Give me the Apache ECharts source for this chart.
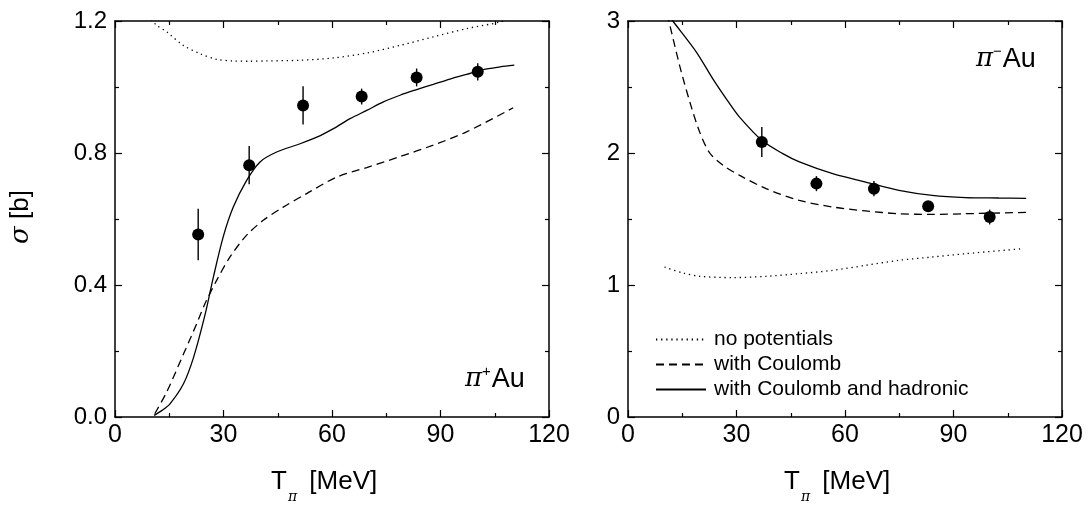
<!DOCTYPE html>
<html><head><meta charset="utf-8">
<script src="https://cdn.jsdelivr.net/npm/echarts@6/dist/echarts.min.js"></script>
<style>html,body{margin:0;padding:0;background:#fff}#c{width:1092px;height:507px}</style>
</head><body><div id="c"></div>
<script>
// ---- data: pi+ Au ----
const plusT = [23.0, 37.1, 52.0, 68.2, 83.4, 100.3];
const plusSigma = [0.553, 0.763, 0.944, 0.971, 1.029, 1.046];
const plusErr = [0.078, 0.058, 0.058, 0.024, 0.027, 0.026];
const plusNoPot = [[10,1.205],[11.5,1.187],[14.3,1.167],[18.9,1.126],[23.5,1.101],[28.1,1.084],[32.7,1.079],[37.3,1.078],[41.9,1.079],[51.2,1.081],[60.4,1.088],[69.6,1.103],[78.8,1.126],[88.0,1.152],[97.2,1.177],[106.5,1.197],[110,1.212]];
const plusCoul = [[11,0.01],[14.3,0.076],[18.9,0.19],[22.6,0.283],[24.9,0.344],[28.1,0.414],[31.8,0.485],[36.4,0.551],[41.0,0.596],[46.5,0.636],[53.0,0.677],[61.3,0.727],[69.6,0.756],[78.8,0.789],[88.0,0.824],[97.2,0.864],[110.1,0.937]];
const plusHad = [[10.8,0.005],[13.0,0.02],[15.2,0.04],[18.9,0.10],[21.7,0.18],[24.9,0.31],[27.2,0.424],[29.9,0.545],[32.7,0.636],[36.4,0.717],[40.1,0.773],[44.7,0.803],[51.2,0.828],[55.8,0.848],[60.4,0.874],[65.0,0.904],[69.6,0.929],[74.2,0.955],[78.8,0.975],[83.4,0.992],[88.0,1.008],[92.6,1.024],[97.2,1.038],[101.8,1.053],[106.5,1.061],[110.4,1.066]];
// ---- data: pi- Au ----
const minusT = [37.0, 52.1, 68.0, 83.0, 100.0];
const minusSigma = [2.083, 1.768, 1.730, 1.596, 1.515];
const minusErr = [0.114, 0.057, 0.058, 0.03, 0.056];
const minusNoPot = [[10.1,1.136],[15.2,1.091],[19.8,1.066],[29.0,1.056],[38.2,1.066],[47.4,1.086],[56.6,1.111],[65.7,1.149],[74.9,1.187],[84.1,1.212],[93.3,1.237],[109.0,1.275]];
const minusCoul = [[10,3.15],[11.3,3.0],[14.3,2.66],[17.1,2.386],[19.8,2.16],[22.6,2.0],[26.3,1.907],[30.9,1.83],[38.2,1.730],[47.4,1.641],[56.6,1.591],[65.7,1.561],[74.9,1.540],[84.1,1.535],[93.3,1.540],[110.3,1.55]];
const minusHad = [[10,3.09],[12.4,3.0],[18.9,2.765],[23.5,2.56],[28.1,2.374],[30.9,2.27],[37.0,2.096],[42.8,1.995],[47.4,1.932],[56.6,1.843],[65.7,1.780],[74.9,1.717],[84.1,1.679],[93.3,1.662],[102.5,1.659],[110.1,1.657]];
const legendNames = ['no potentials', 'with Coulomb', 'with Coulomb and hadronic'];

const FONT = '"Liberation Sans", Arial, sans-serif';
const chart = echarts.init(document.getElementById('c'), null, {renderer: 'canvas'});

function xAx(grid, pos) {
  const main = pos === 'bottom';
  return {gridIndex: grid, type: 'value', position: pos, min: 0, max: 120, interval: 30,
    axisLine: {show: true, onZero: false, lineStyle: {color: '#000', width: 1.5}},
    axisTick: {show: true, inside: true, length: 7, lineStyle: {color: '#000', width: 1.2}},
    minorTick: {show: true, splitNumber: 2, length: 4, lineStyle: {color: '#000', width: 1.2}},
    axisLabel: {show: main, color: '#000', fontSize: 25, fontFamily: FONT, margin: 6},
    splitLine: {show: false}};
}
function yAx(grid, pos, max, interval, fmt) {
  const main = pos === 'left';
  return {gridIndex: grid, type: 'value', position: pos, min: 0, max: max, interval: interval,
    axisLine: {show: true, onZero: false, lineStyle: {color: '#000', width: 1.5}},
    axisTick: {show: true, inside: true, length: 7, lineStyle: {color: '#000', width: 1.2}},
    minorTick: {show: true, splitNumber: 2, length: 4, lineStyle: {color: '#000', width: 1.2}},
    axisLabel: {show: main, color: '#000', fontSize: 24, fontFamily: FONT, margin: 8, formatter: fmt},
    splitLine: {show: false}};
}
function errSeries(xi, yi, T, S, E) {
  return {type: 'custom', xAxisIndex: xi, yAxisIndex: yi, silent: true, z: 3,
    data: T.map((t, i) => [t, S[i] - E[i], S[i] + E[i]]),
    renderItem: function (params, api) {
      const lo = api.coord([api.value(0), api.value(1)]);
      const hi = api.coord([api.value(0), api.value(2)]);
      return {type: 'line', shape: {x1: lo[0], y1: lo[1], x2: hi[0], y2: hi[1]},
        style: {stroke: '#000', lineWidth: 1.4}};
    }};
}
const dotted = {color: '#000', width: 1.3, type: [1.3, 3.8]};
const dashed = {color: '#000', width: 1.3, type: [8, 5]};
const solid = {color: '#000', width: 1.3, type: 'solid'};
function lineS(name, xi, yi, data, ls) {
  return {name: name, type: 'line', xAxisIndex: xi, yAxisIndex: yi, data: data, smooth: 0.3,
    symbol: 'none', showSymbol: false, clip: true, lineStyle: ls,
    itemStyle: {color: '#000'}, z: 2};
}
function dots(xi, yi, T, S) {
  return {type: 'scatter', xAxisIndex: xi, yAxisIndex: yi, symbolSize: 12,
    itemStyle: {color: '#000', opacity: 1}, z: 4, data: T.map((t, i) => [t, S[i]])};
}

const option = {
  animation: false,
  backgroundColor: '#fff',
  grid: [
    {left: 115, top: 21, width: 434, height: 396},
    {left: 628, top: 21, width: 434, height: 396}
  ],
  xAxis: [xAx(0, 'bottom'), xAx(0, 'top'), xAx(1, 'bottom'), xAx(1, 'top')],
  yAxis: [
    yAx(0, 'left', 1.2, 0.4, v => v.toFixed(1)), yAx(0, 'right', 1.2, 0.4),
    yAx(1, 'left', 3, 1, v => String(v)), yAx(1, 'right', 3, 1)
  ],
  legend: {
    orient: 'vertical', left: 650, top: 324, itemWidth: 50, itemHeight: 14, itemGap: 4,
    data: legendNames,
    itemStyle: {opacity: 0},
    textStyle: {color: '#000', fontSize: 21, lineHeight: 21, fontFamily: FONT, padding: [0, 0, 0, 3]},
    inactiveColor: '#000'
  },
  series: [
    lineS(legendNames[0], 0, 0, plusNoPot, dotted),
    lineS(legendNames[1], 0, 0, plusCoul, dashed),
    lineS(legendNames[2], 0, 0, plusHad, solid),
    errSeries(0, 0, plusT, plusSigma, plusErr),
    dots(0, 0, plusT, plusSigma),
    lineS(legendNames[0], 2, 2, minusNoPot, dotted),
    lineS(legendNames[1], 2, 2, minusCoul, dashed),
    lineS(legendNames[2], 2, 2, minusHad, solid),
    errSeries(2, 2, minusT, minusSigma, minusErr),
    dots(2, 2, minusT, minusSigma)
  ],
  graphic: [
    {type: 'text', left: 8, top: 190, rotation: Math.PI / 2, style: {
      text: '{i|σ} [b]', fill: '#000', font: '26px ' + FONT, align: 'center', verticalAlign: 'middle',
      rich: {i: {fontStyle: 'italic', fontSize: 26, fontFamily: '"DejaVu Serif", serif'}}}},
    {type: 'text', left: 271, top: 469, style: {
      text: 'T{s|π} [MeV]', fill: '#000', font: '26px ' + FONT,
      rich: {s: {fontSize: 14, fontStyle: 'italic', fontFamily: '"DejaVu Serif", serif', padding: [30, 5, 0, 1]}}}},
    {type: 'text', left: 784, top: 469, style: {
      text: 'T{s|π} [MeV]', fill: '#000', font: '26px ' + FONT,
      rich: {s: {fontSize: 14, fontStyle: 'italic', fontFamily: '"DejaVu Serif", serif', padding: [30, 5, 0, 1]}}}},
    {type: 'text', left: 465, top: 364, style: {
      text: '{p|π}{u|+}{a|Au}', fill: '#000', font: '27px ' + FONT,
      rich: {p: {fontSize: 26, fontStyle: 'italic', fontFamily: '"DejaVu Serif", serif'},
             u: {fontSize: 15, padding: [0, 1, 16, 0]},
             a: {fontSize: 27}}}},
    {type: 'text', left: 976, top: 44, style: {
      text: '{p|π}{u|−}{a|Au}', fill: '#000', font: '27px ' + FONT,
      rich: {p: {fontSize: 26, fontStyle: 'italic', fontFamily: '"DejaVu Serif", serif'},
             u: {fontSize: 15, padding: [0, 1, 16, 0]},
             a: {fontSize: 27}}}}
  ]
};
chart.setOption(option);
</script>
</body></html>
